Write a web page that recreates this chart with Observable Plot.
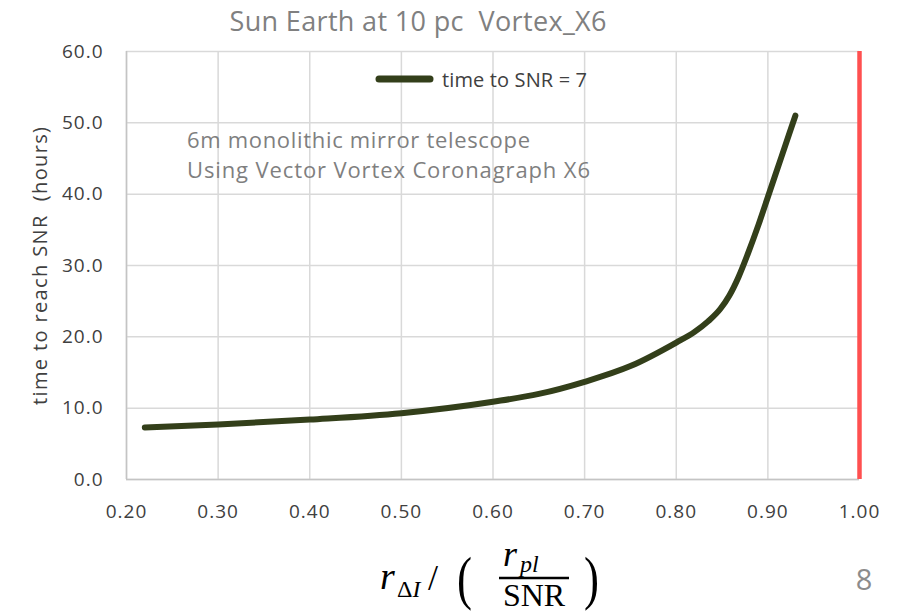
<!DOCTYPE html>
<html>
<head>
<meta charset="utf-8">
<script src="https://cdn.jsdelivr.net/npm/d3@7"></script>
<script src="https://cdn.jsdelivr.net/npm/@observablehq/plot@0.6"></script>
<style>
  body { margin: 0; background: #fff; }
  #wrap { position: relative; width: 910px; height: 613px; overflow: hidden; }
  #chart, #overlay { position: absolute; left: 0; top: 0; }
  #chart svg g[aria-label$="tick label"] text { letter-spacing: 1px; }
  .os { font-family: "Open Sans", Lato, sans-serif; }
  .serif { font-family: "Liberation Serif", "DejaVu Serif", serif; fill: #000; }
</style>
</head>
<body>
<div id="wrap">
  <div id="chart"></div>
  <svg id="overlay" width="910" height="613" xmlns="http://www.w3.org/2000/svg">
    <text id="title" class="os" x="418" y="31" text-anchor="middle" font-size="27" fill="#808080" textLength="377" lengthAdjust="spacing"></text>
    <line x1="379" x2="430" y1="79" y2="79" stroke="#333f1a" stroke-width="7" stroke-linecap="round"/>
    <text id="legtext" class="os" x="442" y="86.5" font-size="20" fill="#404040" textLength="145" lengthAdjust="spacing"></text>
    <text id="note1" class="os" x="187" y="148" font-size="22" fill="#7f7f7f" textLength="343" lengthAdjust="spacing"></text>
    <text id="note2" class="os" x="187" y="178" font-size="22" fill="#7f7f7f" textLength="403" lengthAdjust="spacing"></text>
    <text id="ylabel" class="os" transform="translate(47,266) rotate(-90)" text-anchor="middle" font-size="20" fill="#404040" textLength="278" lengthAdjust="spacing"></text>
    <!-- x-axis title: r_ΔI / ( r_pl / SNR ) -->
    <g class="serif">
      <text x="380" y="589" font-size="38" font-style="italic">r</text>
      <text x="397" y="597" font-size="24">Δ<tspan font-style="italic">I</tspan></text>
      <text x="428" y="590" font-size="36">/</text>
      <text transform="translate(457,598) scale(0.75,1)" font-size="60">(</text>
      <text x="503" y="566" font-size="36" font-style="italic">r</text>
      <text x="520" y="572" font-size="24" font-style="italic">pl</text>
      <line x1="499" x2="569" y1="578" y2="578" stroke="#000" stroke-width="2.5"/>
      <text x="534" y="606" font-size="32" text-anchor="middle">SNR</text>
      <text transform="translate(584,598) scale(0.75,1)" font-size="60">)</text>
    </g>
    <text class="os" x="864" y="590" font-size="29" fill="#8c8c8c" text-anchor="middle">8</text>
  </svg>
</div>
<script>
// Data
const ratio = [0.22, 0.30, 0.40, 0.50, 0.60, 0.65, 0.70, 0.75, 0.80, 0.82, 0.835, 0.848, 0.858, 0.868, 0.878, 0.89, 0.90, 0.915, 0.93];
const hours = [7.3, 7.7, 8.4, 9.3, 10.9, 12.0, 13.7, 15.9, 19.2, 20.7, 22.2, 23.9, 25.8, 28.4, 31.6, 35.8, 39.6, 45.3, 51.0];
const seriesName = "time to SNR = 7";
const titleText = "Sun Earth at 10 pc\u00a0 Vortex_X6";
const yLabel = "time to reach SNR\u00a0 (hours)";
const notes = ["6m monolithic mirror telescope", "Using Vector Vortex Coronagraph X6"];
const xTicks = [0.2, 0.3, 0.4, 0.5, 0.6, 0.7, 0.8, 0.9, 1.0];
const yTicks = [0, 10, 20, 30, 40, 50, 60];
const limitX = [1.0];

document.getElementById("title").textContent = titleText;
document.getElementById("legtext").textContent = seriesName;
document.getElementById("ylabel").textContent = yLabel;
document.getElementById("note1").textContent = notes[0];
document.getElementById("note2").textContent = notes[1];

const data = ratio.map((r, i) => ({ r, h: hours[i] }));

const chart = Plot.plot({
  width: 910,
  height: 613,
  marginLeft: 126,
  marginRight: 51,
  marginTop: 51,
  marginBottom: 134,
  style: { fontFamily: "'Open Sans', Lato, sans-serif", fontSize: "19px", color: "#404040", background: "transparent" },
  x: { domain: [0.2, 1.0], ticks: xTicks, tickFormat: d3.format(".2f"), tickSize: 0, tickPadding: 25, label: null },
  y: { domain: [0, 60], ticks: yTicks, tickFormat: d3.format(".1f"), tickSize: 0, tickPadding: 23, label: null },
  marks: [
    Plot.gridX(xTicks, { stroke: "#d9d9d9", strokeOpacity: 1, strokeWidth: 1.5 }),
    Plot.gridY(yTicks, { stroke: "#d9d9d9", strokeOpacity: 1, strokeWidth: 1.5 }),
    Plot.ruleX([0.2], { stroke: "#c4c4c4", strokeWidth: 1.5 }),
    Plot.ruleY([0], { stroke: "#c4c4c4", strokeWidth: 1.5 }),
    Plot.line(data, { x: "r", y: "h", stroke: "#333f1a", strokeWidth: 6, curve: "monotone-x", strokeLinecap: "round", strokeLinejoin: "round" }),
    Plot.ruleX(limitX, { stroke: "#ff5050", strokeWidth: 4.5 })
  ]
});
document.getElementById("chart").appendChild(chart);
</script>
</body>
</html>
